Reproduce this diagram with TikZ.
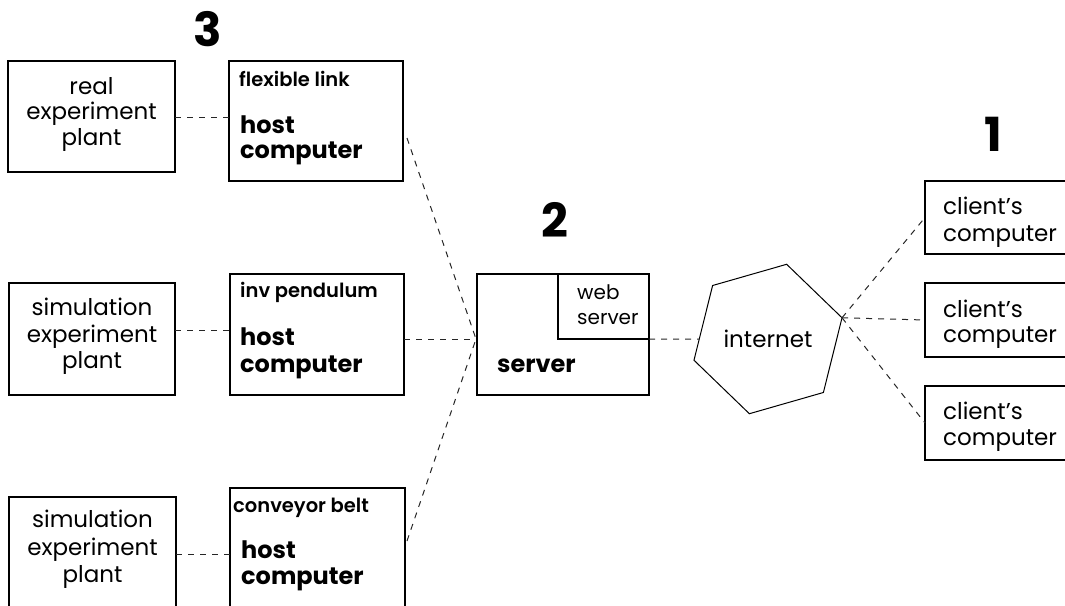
\documentclass[tikz,border=0pt]{standalone}
\usepackage{fontspec}
\setmainfont{Poppins}
\IfFontExistsTF{Poppins SemiBold}{\newfontfamily\labfont{Poppins SemiBold}}{%
  \IfFontExistsTF{Poppins Medium}{\newfontfamily\labfont{Poppins Medium}}{\newcommand\labfont{\bfseries}}}
\usetikzlibrary{shapes.geometric}
\begin{document}
\begin{tikzpicture}[x=1pt,y=-1pt,
  boxn/.style={draw, line width=1.2pt, inner sep=0pt, outer sep=0pt},
  conn/.style={draw=black!85, line width=1pt, dash pattern=on 6pt off 6pt},
  txtreg/.style={font=\fontsize{23}{27}\selectfont, inner sep=0pt},
  txtsmall/.style={font=\fontsize{20}{24}\selectfont, inner sep=0pt},
  txtbold/.style={font=\fontsize{24}{28}\selectfont\bfseries, inner sep=0pt},
  txtlab/.style={font=\fontsize{19.5}{23}\selectfont\labfont, inner sep=0pt},
  txtnum/.style={font=\fontsize{47}{50}\selectfont\bfseries, inner sep=0pt}
]
\useasboundingbox (0,0) rectangle (1065,605);

% boxes
\node[boxn, minimum width=167pt, minimum height=111pt] (p1) at (91.5,116.5) {};
\node[boxn, minimum width=174pt, minimum height=120pt] (h1) at (316,121) {};
\node[boxn, minimum width=166pt, minimum height=112pt] (p2) at (92,339) {};
\node[boxn, minimum width=174pt, minimum height=121pt] (h2) at (317,334.5) {};
\node[boxn, minimum width=167pt, minimum height=118pt] (p3) at (92.5,556) {};
\node[boxn, minimum width=175pt, minimum height=127pt] (h3) at (317.5,551.5) {};
\node[boxn, minimum width=172pt, minimum height=121pt] (srv) at (563,334.5) {};
\node[boxn, minimum width=145pt, minimum height=73pt] (c1) at (997.5,217.5) {};
\node[boxn, minimum width=145pt, minimum height=74pt] (c2) at (997.5,320) {};
\node[boxn, minimum width=145pt, minimum height=74pt] (c3) at (997.5,423) {};
\node[boxn, regular polygon, regular polygon sides=6, minimum size=154pt,
      shape border rotate=16, line width=1pt, txtreg] (inet) at (768,339) {internet};

% web server inner box
\coordinate (wtl) at (558,274);
\coordinate (ws) at (649,339);
\draw[line width=1.2pt] (wtl) |- (ws);

% numbers
\node[txtnum] (n3) at (208,29) {3};
\node[txtnum] (n2) at (555,220) {2};
\node[txtnum] (n1) at (993,134) {1};

% plant texts
\node[txtreg, anchor=mid] (p1a) at (91.5,92) {real};
\node[txtreg, anchor=mid] (p1b) at (91.5,117) {experiment};
\node[txtreg, anchor=mid] (p1c) at (91.5,143) {plant};
\node[txtreg, anchor=mid] (p2a) at (92,313) {simulation};
\node[txtreg, anchor=mid] (p2b) at (92,340) {experiment};
\node[txtreg, anchor=mid] (p2c) at (92,366) {plant};
\node[txtreg, anchor=mid] (p3a) at (92.5,525) {simulation};
\node[txtreg, anchor=mid] (p3b) at (92.5,553) {experiment};
\node[txtreg, anchor=mid] (p3c) at (92.5,580) {plant};

% host texts
\node[txtlab, anchor=mid west] (h1l) at (239,84) {flexible link};
\node[txtbold, anchor=mid west] (h1a) at (240,131) {host};
\node[txtbold, anchor=mid west] (h1b) at (240,156) {computer};
\node[txtlab, anchor=mid west] (h2l) at (240,295) {inv pendulum};
\node[txtbold, anchor=mid west] (h2a) at (240,343) {host};
\node[txtbold, anchor=mid west] (h2b) at (240,370) {computer};
\node[txtlab, anchor=mid west] (h3l) at (233,510) {conveyor belt};
\node[txtbold, anchor=mid west] (h3a) at (241,556) {host};
\node[txtbold, anchor=mid west] (h3b) at (241,582) {computer};

% server texts
\node[txtsmall, anchor=mid west] (wsa) at (577,297) {web};
\node[txtsmall, anchor=mid west] (wsb) at (577,322) {server};
\node[txtbold, anchor=mid west] (srvt) at (497,370) {server};

% client texts
\node[txtreg, anchor=mid west] (c1a) at (943,212) {client’s};
\node[txtreg, anchor=mid west] (c1b) at (943,239) {computer};
\node[txtreg, anchor=mid west] (c2a) at (943,315) {client’s};
\node[txtreg, anchor=mid west] (c2b) at (943,340) {computer};
\node[txtreg, anchor=mid west] (c3a) at (943,417) {client’s};
\node[txtreg, anchor=mid west] (c3b) at (943,443) {computer};

% connectors
\coordinate (r1) at (0,117);
\coordinate (r2) at (0,330);
\coordinate (r3) at (0,554);
\coordinate (j) at (476,339);
\coordinate (t1) at (407,138);
\coordinate (t3) at (407,541);
\draw[conn] (p1.east |- r1) -- (h1.west |- r1);
\draw[conn] (p2.east |- r2) -- (h2.west |- r2);
\draw[conn] (p3.east |- r3) -- (h3.west |- r3);
\draw[conn] (t1) -- (j);
\draw[conn] (t3) -- (j);
\draw[conn] (h2.east |- j) -- (j);
\draw[conn] (ws) -- (inet);
\draw[conn] (inet.16) -- (c1.west);
\draw[conn] (inet.16) -- (c2.west);
\draw[conn] (inet.16) -- (c3.west);
\end{tikzpicture}
\end{document}
